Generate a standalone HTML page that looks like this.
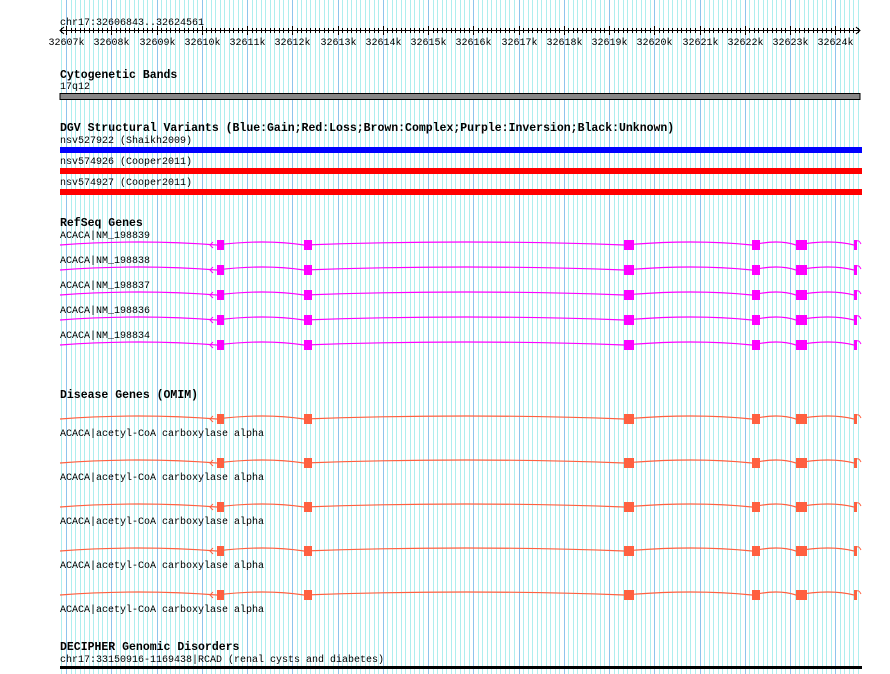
<!DOCTYPE html>
<html><head><meta charset="utf-8"><style>
html,body{margin:0;padding:0;background:#fff;}
svg{display:block;}
text{font-family:"Liberation Mono","DejaVu Sans Mono",monospace;font-size:10px;fill:#000;}
.b{font-weight:bold;font-size:11.5px;}
</style></head><body>
<svg id="s" width="890" height="674" xmlns="http://www.w3.org/2000/svg"></svg>
<script>
var s=document.getElementById('s'),h='';
var x0=66,st=45.25,ms=st/10;
// grid
for(var x=x0-ms;x<=860;x+=ms){}
for(var i=-1;i<=180;i++){var x=x0+i*ms;if(x<60||x>859)continue;var maj=(i%10===0);
h+='<line x1="'+(Math.round(x)+.5)+'" y1="0" x2="'+(Math.round(x)+.5)+'" y2="674" stroke="'+(maj?'#8ec4ec':'#aeeeee')+'" stroke-width="1"/>';}
// axis
h+='<text x="60" y="25">chr17:32606843..32624561</text>';
h+='<line x1="60" y1="30.5" x2="860" y2="30.5" stroke="#000"/>';
h+='<path d="M64,27 L60,30.5 L64,34 M856,27 L860,30.5 L856,34" fill="none" stroke="#000"/>';
for(var i=-1;i<=180;i++){var x=Math.round(x0+i*ms)+.5;if(x<61||x>859)continue;var maj=(i%10===0);
h+='<line x1="'+x+'" y1="'+(maj?26:28)+'" x2="'+x+'" y2="'+(maj?35:33)+'" stroke="#000"/>';
if(maj)h+='<text x="'+x+'" y="45" text-anchor="middle">'+(32607+i/10)+'k</text>';}
// cytoband
h+='<text class="b" x="60" y="78">Cytogenetic Bands</text><text x="60" y="89">17q12</text>';
h+='<rect x="60" y="93.5" width="800" height="6" fill="#888" stroke="#000"/>';
h+='<text class="b" x="60" y="131">DGV Structural Variants (Blue:Gain;Red:Loss;Brown:Complex;Purple:Inversion;Black:Unknown)</text>';
h+='<text x="60" y="143">nsv527922 (Shaikh2009)</text><rect x="60" y="147" width="802" height="6" fill="#0000ff"/>';
h+='<text x="60" y="164">nsv574926 (Cooper2011)</text><rect x="60" y="168" width="802" height="6" fill="#ff0000"/>';
h+='<text x="60" y="185">nsv574927 (Cooper2011)</text><rect x="60" y="189" width="802" height="6" fill="#ff0000"/>';
// genes
var ex=[[217,224],[304,312],[624,634],[752,760],[796,807],[854,857]];
function gene(y,c){var d='M60,'+y,prev=60;
 for(var k=0;k<ex.length;k++){var a=ex[k][0];var m=(prev+a)/2;d+=' Q'+m+','+(y-6)+' '+a+','+y;prev=ex[k][1];}
 var g='<path d="'+d+'" fill="none" stroke="'+c+'" stroke-width="1.2"/>';
 g+='<path d="M213,'+(y-3)+' L210,'+y+' L213,'+(y+3)+'" fill="none" stroke="'+c+'"/>';
 for(var k=0;k<ex.length;k++)g+='<rect x="'+ex[k][0]+'" y="'+(y-5)+'" width="'+(ex[k][1]-ex[k][0])+'" height="10" fill="'+c+'"/>';
 g+='<path d="M857,'+(y-4)+' Q859,'+(y-5)+' 861,'+(y-1)+'" fill="none" stroke="'+c+'"/>';
 return g;}
h+='<text class="b" x="60" y="226">RefSeq Genes</text>';
var nm=['198839','198838','198837','198836','198834'];
for(var r=0;r<5;r++){var y=245+r*25;h+='<text x="60" y="'+(y-7)+'">ACACA|NM_'+nm[r]+'</text>'+gene(y,'#ff00ff');}
h+='<text class="b" x="60" y="398">Disease Genes (OMIM)</text>';
for(var r=0;r<5;r++){var y=419+r*44;h+=gene(y,'#ff6040')+'<text x="60" y="'+(y+17)+'">ACACA|acetyl-CoA carboxylase alpha</text>';}
h+='<text class="b" x="60" y="650">DECIPHER Genomic Disorders</text><text x="60" y="662">chr17:33150916-1169438|RCAD (renal cysts and diabetes)</text>';
h+='<rect x="60" y="666" width="802" height="3" fill="#000"/>';
s.innerHTML=h;
</script>
</body></html>
